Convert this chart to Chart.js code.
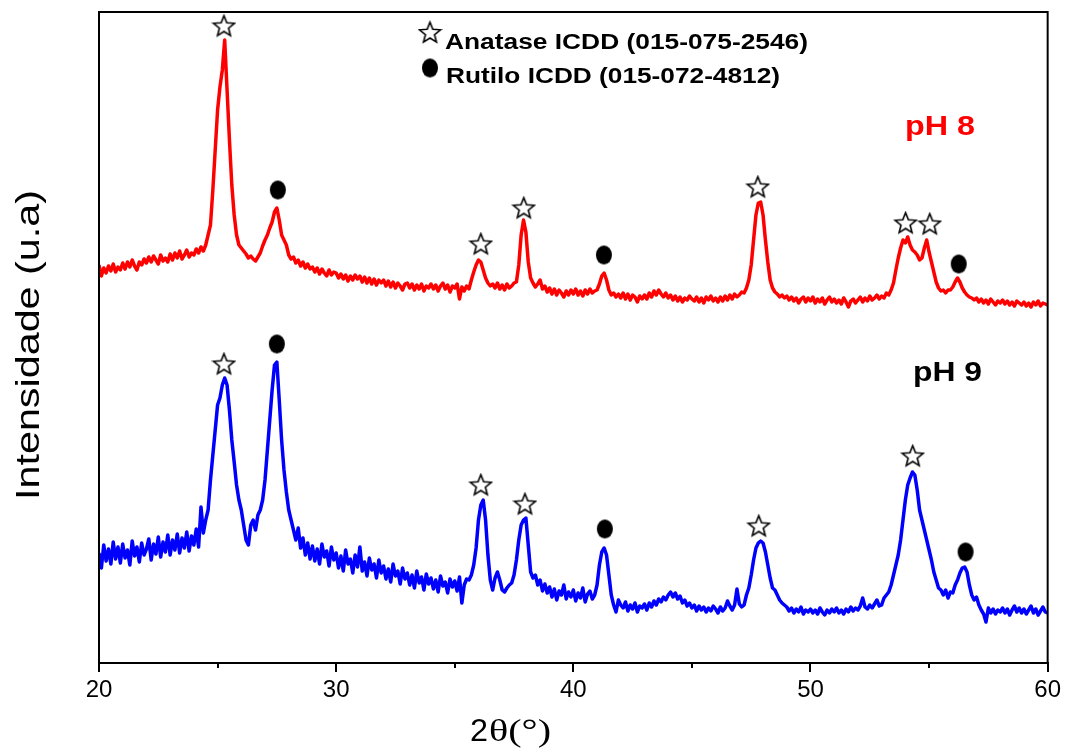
<!DOCTYPE html>
<html lang="pt">
<head>
<meta charset="UTF-8">
<title>DRX - TiO2 pH 8 e pH 9</title>
<script src="https://cdn.jsdelivr.net/npm/chart.js"></script>
<style>
  html, body { margin: 0; padding: 0; background: #fff; }
  #wrap { width: 1065px; height: 749px; }
</style>
</head>
<body>
<div id="wrap"><canvas id="drx" width="1065" height="749"></canvas></div>
<script>
// 2theta grid (graus), passo 0.1
const theta = [
  20.0, 20.1, 20.2, 20.3, 20.4, 20.5, 20.6, 20.7, 20.8, 20.9,
  21.0, 21.1, 21.2, 21.3, 21.4, 21.5, 21.6, 21.7, 21.8, 21.9,
  22.0, 22.1, 22.2, 22.3, 22.4, 22.5, 22.6, 22.7, 22.8, 22.9,
  23.0, 23.1, 23.2, 23.3, 23.4, 23.5, 23.6, 23.7, 23.8, 23.9,
  24.0, 24.1, 24.2, 24.3, 24.4, 24.5, 24.6, 24.7, 24.8, 24.9,
  25.0, 25.1, 25.2, 25.3, 25.4, 25.5, 25.6, 25.7, 25.8, 25.9,
  26.0, 26.1, 26.2, 26.3, 26.4, 26.5, 26.6, 26.7, 26.8, 26.9,
  27.0, 27.1, 27.2, 27.3, 27.4, 27.5, 27.6, 27.7, 27.8, 27.9,
  28.0, 28.1, 28.2, 28.3, 28.4, 28.5, 28.6, 28.7, 28.8, 28.9,
  29.0, 29.1, 29.2, 29.3, 29.4, 29.5, 29.6, 29.7, 29.8, 29.9,
  30.0, 30.1, 30.2, 30.3, 30.4, 30.5, 30.6, 30.7, 30.8, 30.9,
  31.0, 31.1, 31.2, 31.3, 31.4, 31.5, 31.6, 31.7, 31.8, 31.9,
  32.0, 32.1, 32.2, 32.3, 32.4, 32.5, 32.6, 32.7, 32.8, 32.9,
  33.0, 33.1, 33.2, 33.3, 33.4, 33.5, 33.6, 33.7, 33.8, 33.9,
  34.0, 34.1, 34.2, 34.3, 34.4, 34.5, 34.6, 34.7, 34.8, 34.9,
  35.0, 35.1, 35.2, 35.3, 35.4, 35.5, 35.6, 35.7, 35.8, 35.9,
  36.0, 36.1, 36.2, 36.3, 36.4, 36.5, 36.6, 36.7, 36.8, 36.9,
  37.0, 37.1, 37.2, 37.3, 37.4, 37.5, 37.6, 37.7, 37.8, 37.9,
  38.0, 38.1, 38.2, 38.3, 38.4, 38.5, 38.6, 38.7, 38.8, 38.9,
  39.0, 39.1, 39.2, 39.3, 39.4, 39.5, 39.6, 39.7, 39.8, 39.9,
  40.0, 40.1, 40.2, 40.3, 40.4, 40.5, 40.6, 40.7, 40.8, 40.9,
  41.0, 41.1, 41.2, 41.3, 41.4, 41.5, 41.6, 41.7, 41.8, 41.9,
  42.0, 42.1, 42.2, 42.3, 42.4, 42.5, 42.6, 42.7, 42.8, 42.9,
  43.0, 43.1, 43.2, 43.3, 43.4, 43.5, 43.6, 43.7, 43.8, 43.9,
  44.0, 44.1, 44.2, 44.3, 44.4, 44.5, 44.6, 44.7, 44.8, 44.9,
  45.0, 45.1, 45.2, 45.3, 45.4, 45.5, 45.6, 45.7, 45.8, 45.9,
  46.0, 46.1, 46.2, 46.3, 46.4, 46.5, 46.6, 46.7, 46.8, 46.9,
  47.0, 47.1, 47.2, 47.3, 47.4, 47.5, 47.6, 47.7, 47.8, 47.9,
  48.0, 48.1, 48.2, 48.3, 48.4, 48.5, 48.6, 48.7, 48.8, 48.9,
  49.0, 49.1, 49.2, 49.3, 49.4, 49.5, 49.6, 49.7, 49.8, 49.9,
  50.0, 50.1, 50.2, 50.3, 50.4, 50.5, 50.6, 50.7, 50.8, 50.9,
  51.0, 51.1, 51.2, 51.3, 51.4, 51.5, 51.6, 51.7, 51.8, 51.9,
  52.0, 52.1, 52.2, 52.3, 52.4, 52.5, 52.6, 52.7, 52.8, 52.9,
  53.0, 53.1, 53.2, 53.3, 53.4, 53.5, 53.6, 53.7, 53.8, 53.9,
  54.0, 54.1, 54.2, 54.3, 54.4, 54.5, 54.6, 54.7, 54.8, 54.9,
  55.0, 55.1, 55.2, 55.3, 55.4, 55.5, 55.6, 55.7, 55.8, 55.9,
  56.0, 56.1, 56.2, 56.3, 56.4, 56.5, 56.6, 56.7, 56.8, 56.9,
  57.0, 57.1, 57.2, 57.3, 57.4, 57.5, 57.6, 57.7, 57.8, 57.9,
  58.0, 58.1, 58.2, 58.3, 58.4, 58.5, 58.6, 58.7, 58.8, 58.9,
  59.0, 59.1, 59.2, 59.3, 59.4, 59.5, 59.6, 59.7, 59.8, 59.9,
  60.0
];

// intensidade (u.a) - amostra pH 8 (curva deslocada para cima)
const intPH8 = [
  398, 387, 395, 390, 397, 392, 399, 391, 396, 393,   // 20
  400, 394, 401, 396, 403, 397, 393, 401, 398, 404,   // 21
  400, 406, 401, 407, 403, 399, 408, 402, 405, 401,   // 22
  409, 403, 410, 405, 412, 404, 408, 413, 406, 410,   // 23
  408, 414, 410, 416, 412, 418, 428, 438, 473, 513,   // 24
  553, 576, 593, 623, 573, 523, 478, 448, 428, 418,   // 25
  415, 412, 409, 405, 407, 404, 402, 406, 410, 417,   // 26
  423, 428, 435, 441, 451, 455, 443, 428, 423, 418,   // 27
  408, 404, 406, 400, 403, 397, 401, 395, 399, 394,   // 28
  396, 391, 395, 389, 394, 390, 387, 393, 388, 391,   // 29
  390, 385, 389, 384, 388, 382, 387, 383, 388, 384,   // 30
  387, 381, 386, 380, 385, 379, 384, 378, 383, 380,   // 31
  383, 377, 382, 376, 381, 375, 380, 377, 373, 379,   // 32
  380, 375, 379, 373, 378, 374, 379, 372, 377, 375,   // 33
  379, 374, 378, 372, 377, 380, 374, 378, 371, 377,   // 34
  375, 379, 364, 376, 372, 377, 374, 383, 391, 398,   // 35
  403, 401, 393, 385, 380, 377, 379, 375, 380, 374,   // 36
  378, 373, 379, 375, 377, 380, 381, 398, 428, 443,   // 37
  431, 401, 385, 380, 376, 379, 383, 374, 377, 371,   // 38
  375, 369, 374, 368, 373, 370, 366, 372, 368, 373,   // 39
  369, 374, 368, 372, 367, 373, 369, 374, 370, 372,   // 40
  373, 379, 387, 390, 383, 373, 368, 370, 366, 369,   // 41
  365, 370, 364, 369, 363, 368, 366, 361, 367, 364,   // 42
  368, 364, 370, 366, 372, 368, 373, 369, 366, 370,   // 43
  365, 368, 363, 367, 362, 366, 361, 365, 363, 367,   // 44
  364, 362, 366, 361, 365, 360, 366, 363, 367, 362,   // 45
  365, 361, 366, 362, 367, 363, 368, 364, 369, 366,   // 46
  368, 371, 370, 375, 383, 398, 423, 448, 460, 461,   // 47
  448, 423, 401, 383, 375, 371, 369, 366, 368, 365,   // 48
  367, 363, 366, 362, 365, 360, 364, 366, 361, 365,   // 49
  362, 366, 360, 364, 361, 365, 359, 363, 366, 361,   // 50
  364, 360, 363, 359, 365, 361, 356, 362, 364, 360,   // 51
  363, 366, 361, 365, 362, 367, 363, 365, 368, 364,   // 52
  367, 365, 370, 368, 373, 380, 393, 405, 415, 423,   // 53
  420, 426, 418, 413, 411, 408, 403, 405, 415, 423,   // 54
  411, 401, 391, 381, 375, 372, 373, 370, 373, 373,   // 55
  376, 381, 385, 381, 375, 371, 368, 366, 365, 363,   // 56
  365, 361, 364, 360, 363, 359, 364, 361, 358, 362,   // 57
  360, 363, 359, 362, 358, 361, 357, 362, 360, 358,   // 58
  361, 357, 360, 356, 361, 358, 362, 357, 360, 359,   // 59
  358                                                 // 60
];

// intensidade (u.a) - amostra pH 9
const intPH9 = [
  110,  95, 118, 102, 114,  99, 121, 104, 116, 100,   // 20
  119, 105, 113,  98, 122, 107, 116, 101, 120, 108,   // 21
  114, 124, 103, 119, 109, 126, 106, 121, 111, 128,   // 22
  108, 123, 113, 129, 110, 125, 115, 131, 112, 127,   // 23
  118, 134, 116, 156, 130, 143, 153, 183, 208, 233,   // 24
  258, 265, 278, 285, 278, 253, 223, 201, 178, 163,   // 25
  153, 138, 123, 118, 138, 143, 133, 148, 153, 163,   // 26
  183, 213, 243, 273, 298, 301, 263, 223, 193, 171,   // 27
  153, 143, 133, 123, 135, 115, 125, 108, 120, 104,   // 28
  117, 102, 114,  99, 119, 106, 112,  97, 116, 103,   // 29
  110,  95, 107,  92, 113,  99, 104,  90, 108,  96,   // 30
  116,  92, 101,  87, 105,  93,  99,  85, 103,  90,   // 31
   97,  84,  94,  81,  99,  87,  92,  79,  95,  84,   // 32
   90,  78,  88,  75,  92,  80,  86,  73,  89,  79,   // 33
   85,  74,  83,  71,  87,  77,  81,  70,  84,  76,   // 34
   82,  72,  86,  60,  78,  84,  83,  88,  98, 115,   // 35
  143, 158, 163, 143, 108,  83,  73,  85,  91,  83,   // 36
   73,  71,  75,  78,  80,  88, 103, 123, 138, 143,   // 37
  145, 118,  91,  85,  88,  78,  83,  72,  79,  70,   // 38
   76,  66,  74,  63,  72,  68,  78,  64,  71,  66,   // 39
   73,  62,  70,  65,  75,  61,  69,  72,  64,  68,   // 40
   78,  98, 111, 115, 108,  88,  68,  58,  51,  63,   // 41
   58,  55,  61,  52,  58,  54,  60,  51,  57,  55,   // 42
   59,  53,  60,  56,  62,  58,  64,  61,  66,  63,   // 43
   68,  71,  66,  70,  64,  67,  60,  63,  57,  60,   // 44
   55,  58,  52,  57,  53,  56,  51,  55,  52,  57,   // 45
   54,  50,  56,  52,  55,  62,  57,  53,  58,  74,   // 46
   59,  56,  58,  68,  75,  88, 103, 115, 120, 122,   // 47
  120, 111,  98,  85,  75,  73,  68,  63,  60,  58,   // 48
   56,  52,  55,  50,  54,  51,  56,  49,  53,  51,   // 49
   54,  50,  53,  49,  55,  51,  48,  53,  50,  54,   // 50
   51,  55,  50,  53,  49,  54,  51,  56,  52,  55,   // 51
   53,  57,  65,  56,  54,  58,  55,  59,  63,  57,   // 52
   58,  65,  68,  71,  78,  88,  98, 108, 123, 143,   // 53
  163, 178, 185, 191, 188, 173, 153, 143, 133, 123,   // 54
  113, 103,  91,  83,  75,  73,  68,  73,  65,  71,   // 55
   70,  78,  83,  90,  95,  96,  91,  78,  68,  63,   // 56
   66,  58,  53,  49,  41,  55,  50,  54,  49,  53,   // 57
   51,  55,  50,  54,  48,  53,  57,  51,  55,  50,   // 58
   54,  49,  53,  57,  50,  54,  48,  52,  56,  51,   // 59
   50                                                 // 60
];

// picos identificados (posicao do simbolo)
const anataseX8 = [25.27, 36.10, 37.91, 47.78, 54.01, 55.03];
const anataseY8 = [637, 419, 455, 476, 440, 439];
const rutiloX8  = [27.54, 41.29, 56.25];
const rutiloY8  = [473, 408, 399];
const anataseX9 = [25.27, 36.10, 37.96, 47.82, 54.31];
const anataseY9 = [299, 178, 159, 137, 207];
const rutiloX9  = [27.50, 41.33, 56.54];
const rutiloY9  = [319, 134, 111];

const xTicks = [20, 30, 40, 50, 60];
const xMinorTicks = [25, 35, 45, 55];

function pts(xs, ys) {
  return xs.map((x, i) => ({ x: x, y: ys[i] }));
}

// simbolos: estrela vazada (anatase) e elipse cheia (rutilo)
function makeStar() {
  const c = document.createElement('canvas');
  c.width = 25; c.height = 25;
  const g = c.getContext('2d');
  const R = 11, r = 4.8, cx = 12.5, cy = 13.2;
  g.beginPath();
  for (let i = 0; i < 10; i++) {
    const a = -Math.PI / 2 + i * Math.PI / 5;
    const rad = i % 2 ? r : R;
    g.lineTo(cx + rad * Math.cos(a), cy + rad * Math.sin(a));
  }
  g.closePath();
  g.fillStyle = '#fff';
  g.fill();
  g.lineWidth = 1.6;
  g.strokeStyle = '#000';
  g.stroke();
  return c;
}

function makeDot() {
  const c = document.createElement('canvas');
  c.width = 18; c.height = 21;
  const g = c.getContext('2d');
  g.beginPath();
  g.ellipse(9, 10.5, 8, 9.5, 0, 0, Math.PI * 2);
  g.fillStyle = '#000';
  g.fill();
  return c;
}

const starImg = makeStar();
const dotImg = makeDot();

// texto esticado na horizontal ate a largura pedida
function fitText(ctx, text, left, base, font, width, color) {
  ctx.save();
  ctx.font = font;
  ctx.fillStyle = color;
  ctx.textAlign = 'left';
  ctx.textBaseline = 'alphabetic';
  const w = ctx.measureText(text).width;
  ctx.translate(left, base);
  ctx.scale(width / w, 1);
  ctx.fillText(text, 0, 0);
  ctx.restore();
}

const decor = {
  id: 'decor',
  afterDraw(chart) {
    const ctx = chart.ctx;
    const a = chart.chartArea;
    const sx = chart.scales.x;

    // moldura
    ctx.save();
    ctx.strokeStyle = '#000';
    ctx.lineWidth = 2;
    ctx.strokeRect(a.left, a.top, a.right - a.left, a.bottom - a.top);

    // ticks menores
    ctx.beginPath();
    xMinorTicks.forEach(v => {
      const px = Math.round(sx.getPixelForValue(v));
      ctx.moveTo(px, a.bottom);
      ctx.lineTo(px, a.bottom + 5);
    });
    ctx.stroke();
    ctx.restore();

    // legenda
    ctx.drawImage(starImg, 430 - 12.5, 33 - 13);
    ctx.drawImage(dotImg, 430 - 9, 68 - 10.5);
    fitText(ctx, 'Anatase ICDD (015-075-2546)', 445, 49, 'bold 22px "Liberation Sans", Arial, sans-serif', 363, '#000');
    fitText(ctx, 'Rutilo ICDD (015-072-4812)', 446, 83, 'bold 22px "Liberation Sans", Arial, sans-serif', 334, '#000');

    // rotulos das amostras
    fitText(ctx, 'pH 8', 905, 135, 'bold 27px "Liberation Sans", Arial, sans-serif', 70, '#ff0000');
    fitText(ctx, 'pH 9', 913, 381, 'bold 27px "Liberation Sans", Arial, sans-serif', 69, '#000');

    // titulo do eixo x
    fitText(ctx, '2', 470, 741, '31px "Liberation Sans", Arial, sans-serif', 18, '#000');
    fitText(ctx, '\u03b8(\u00b0)', 489, 741, '31px "Liberation Serif", "Times New Roman", serif', 62, '#000');

    // titulo do eixo y
    ctx.save();
    ctx.translate(39, 500);
    ctx.rotate(-Math.PI / 2);
    fitText(ctx, 'Intensidade (u.a)', 0, 0, '34px "Liberation Sans", Arial, sans-serif', 310, '#000');
    ctx.restore();
  }
};

new Chart(document.getElementById('drx'), {
  type: 'line',
  data: {
    datasets: [
      { label: 'Anatase pH 8', type: 'scatter', data: pts(anataseX8, anataseY8), pointStyle: starImg, showLine: false, order: 0 },
      { label: 'Rutilo pH 8', type: 'scatter', data: pts(rutiloX8, rutiloY8), pointStyle: dotImg, showLine: false, order: 0 },
      { label: 'Anatase pH 9', type: 'scatter', data: pts(anataseX9, anataseY9), pointStyle: starImg, showLine: false, order: 0 },
      { label: 'Rutilo pH 9', type: 'scatter', data: pts(rutiloX9, rutiloY9), pointStyle: dotImg, showLine: false, order: 0 },
      { label: 'pH 8', data: pts(theta, intPH8), borderColor: '#ff0000', borderWidth: 3.5, borderJoinStyle: 'round', pointRadius: 0, tension: 0, order: 1 },
      { label: 'pH 9', data: pts(theta, intPH9), borderColor: '#0000ff', borderWidth: 3.5, borderJoinStyle: 'round', pointRadius: 0, tension: 0, order: 1 }
    ]
  },
  options: {
    responsive: false,
    animation: false,
    devicePixelRatio: 1,
    layout: { padding: { left: 99, right: 17, top: 12, bottom: 0 } },
    plugins: {
      legend: { display: false },
      tooltip: { enabled: false }
    },
    scales: {
      x: {
        type: 'linear',
        min: 20,
        max: 60,
        afterBuildTicks: s => { s.ticks = xTicks.map(v => ({ value: v })); },
        afterFit: s => { s.height = 86; },
        border: { display: true, color: '#000', width: 2 },
        grid: { drawOnChartArea: false, drawTicks: true, tickLength: 9, color: '#000', lineWidth: 2 },
        ticks: {
          color: '#000',
          font: { family: '"Liberation Sans", Arial, sans-serif', size: 24 },
          padding: 4,
          maxRotation: 0,
          autoSkip: false
        }
      },
      y: { display: false, min: 0, max: 651 }
    }
  },
  plugins: [decor]
});
</script>
</body>
</html>
